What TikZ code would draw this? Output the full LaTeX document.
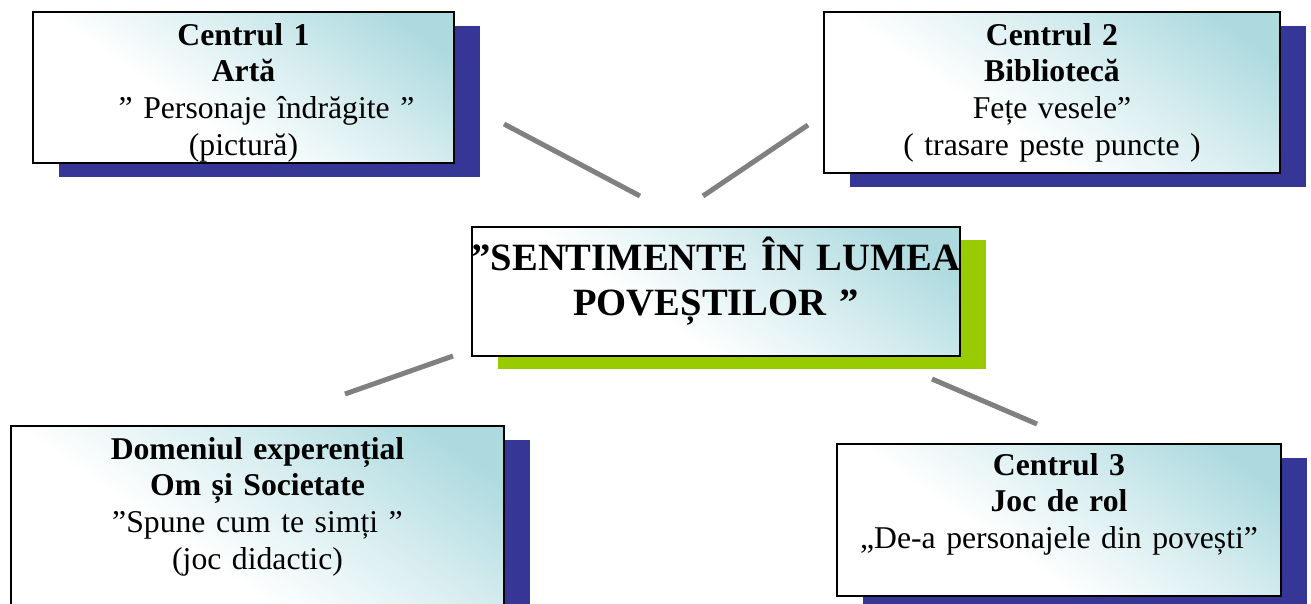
\documentclass[tikz,border=0pt]{standalone}
\usepackage{fontspec}
\setmainfont{Liberation Serif}
\usetikzlibrary{shadows}
\definecolor{boxcyan}{RGB}{172,218,223}
\definecolor{shadeblue}{RGB}{54,54,150}
\definecolor{shadegreen}{RGB}{153,204,0}
\definecolor{linkgray}{RGB}{128,128,128}
\pgfdeclareverticalshading{panelglow}{100bp}{color(0bp)=(white); color(40bp)=(white);
    color(58bp)=(boxcyan!45); color(78bp)=(boxcyan); color(100bp)=(boxcyan)}

\begin{document}
\begin{tikzpicture}[
    x=1pt, y=-1pt,
    every node/.style={align=center, inner sep=0pt},
    panel/.style={draw, line width=2pt, anchor=north west,
        shade, shading=panelglow, shading angle=-35,
        font=\fontsize{31.7}{36.8}\selectfont, text height=33pt},
    act/.style={panel, general shadow={shadow xshift=26pt, shadow yshift=-14pt, fill=shadeblue}},
    theme/.style={panel, font=\fontsize{38.6}{45}\selectfont\bfseries,
        general shadow={shadow xshift=26pt, shadow yshift=-13pt, fill=shadegreen}},
    link/.style={draw=linkgray, line width=5pt}
]
\useasboundingbox (0,0) rectangle (1311,603);
\clip (0,0) rectangle (1311,603);

% activity centres
\node[act, text width=421pt, text depth=118pt] (arta) at (32,11) {\textbf{Centrul 1}\\
    \textbf{Artă}\\
    \hspace*{46pt}” Personaje îndrăgite ”\\
    (pictură)};
\node[act, text width=456pt, text depth=128pt] (biblioteca) at (823,11) {\textbf{Centrul 2}\\
    \textbf{Bibliotecă}\\
    Fețe vesele”\\
    ( trasare peste puncte )};
\node[theme, text width=488pt, text height=43pt, text depth=86pt] (tema) at (471,226) {\makebox[\linewidth]{”SENTIMENTE ÎN LUMEA}\\
    POVEȘTILOR ”};
\node[act, text width=493pt, text depth=157pt] (societate) at (10,425) {\textbf{Domeniul experențial}\\
    \textbf{Om și Societate}\\
    ”Spune cum te simți ”\\
    (joc didactic)};
\node[act, text width=444pt, text height=31pt, text depth=121pt] (joc) at (836,443) {\textbf{Centrul 3}\\
    \textbf{Joc de rol}\\
    „De-a personajele din povești”};

% spokes
\coordinate (arta-in) at (504,124);
\coordinate (arta-out) at (640,196);
\coordinate (bib-in) at (808,125);
\coordinate (bib-out) at (703,196);
\coordinate (soc-in) at (453,356);
\coordinate (soc-out) at (345,394);
\coordinate (joc-in) at (932,379);
\coordinate (joc-out) at (1037,424);
\draw[link] (arta-in) -- (arta-out);
\draw[link] (bib-in) -- (bib-out);
\draw[link] (soc-in) -- (soc-out);
\draw[link] (joc-in) -- (joc-out);
\end{tikzpicture}
\end{document}
